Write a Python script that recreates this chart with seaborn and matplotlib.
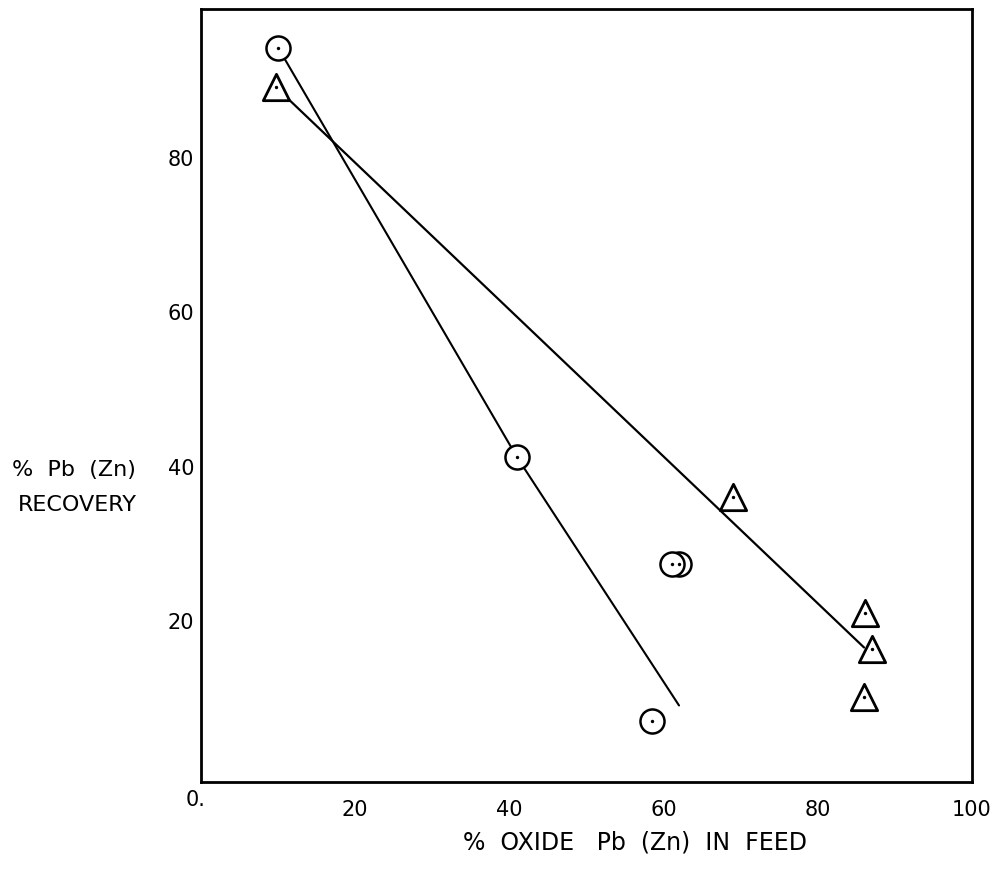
import seaborn as sns
import matplotlib.pyplot as plt
import matplotlib.transforms as mtransforms
import pandas as pd

# Data #

# circles: Pb recovery
circle_x = [10.0, 41.0, 62.0, 61.1, 58.5]
circle_y = [95.0, 42.0, 28.2, 28.2, 7.9]
# triangles: Zn recovery
triangle_x = [9.7, 69.0, 86.1, 87.0, 86.0]
triangle_y = [89.9, 36.9, 21.9, 17.2, 11.0]

# hand drawn trend lines
circle_fit_x = [10.0, 41.0, 62.0]
circle_fit_y = [95.0, 42.0, 9.9]
triangle_fit_x = [9.7, 86.0]
triangle_fit_y = [89.9, 17.4]

x_ticks = [20, 40, 60, 80, 100]
x_tick_labels = ["20", "40", "60", "80", "100"]
y_ticks = [20, 40, 60, 80]
y_tick_labels = ["20", "40", "60", "80"]

x_label = "%  OXIDE   Pb  (Zn)  IN  FEED"
y_label_lines = ["%  Pb  (Zn)", "RECOVERY"]


sns.set_theme(style="white")
plt.rcParams['font.family'] = ['DejaVu Sans']
plt.rcParams['text.color'] = "black"

fig = plt.figure(figsize=(9.95, 8.7), dpi=100)
ax = fig.add_axes([201 / 995, 1 - 783 / 870, 771 / 995, 773 / 870])

circles = pd.DataFrame({"x": circle_x, "y": circle_y})
triangles = pd.DataFrame({"x": triangle_x, "y": triangle_y})
circle_fit = pd.DataFrame({"x": circle_fit_x, "y": circle_fit_y})
triangle_fit = pd.DataFrame({"x": triangle_fit_x, "y": triangle_fit_y})

sns.lineplot(data=circle_fit, x="x", y="y", sort=False, estimator=None,
             color="black", linewidth=1.5, ax=ax, zorder=2)
sns.lineplot(data=triangle_fit, x="x", y="y", sort=False, estimator=None,
             color="black", linewidth=1.6, ax=ax, zorder=2)

sns.scatterplot(data=circles, x="x", y="y", marker="o", s=300,
                facecolor="white", edgecolor="black", linewidth=1.8, ax=ax, zorder=3)
sns.scatterplot(data=triangles, x="x", y="y", marker="^", s=360,
                facecolor="white", edgecolor="black", linewidth=2.0, ax=ax, zorder=3)
# centre dots
sns.scatterplot(data=pd.concat([circles, triangles]), x="x", y="y", marker="o",
                s=6, color="black", linewidth=0, ax=ax, zorder=4)

ax.set_xlim(0, 100)
ax.set_ylim(0, 100)
ax.set_xlabel("")
ax.set_ylabel("")

ax.set_xticks(x_ticks)
ax.set_xticklabels(x_tick_labels, fontsize=15)
ax.set_yticks(y_ticks)
ax.set_yticklabels(y_tick_labels, fontsize=15)
ax.tick_params(axis="x", direction="in", length=6, width=1.2, pad=12, colors="black")
ax.tick_params(axis="y", direction="in", length=6, width=1.2, pad=5, colors="black")

# the hand written y labels sit a little above their ticks
shift = mtransforms.ScaledTranslation(0, 7 / 100, fig.dpi_scale_trans)
for lbl in ax.get_yticklabels():
	lbl.set_transform(lbl.get_transform() + shift)

for side in ["left", "right", "top", "bottom"]:
	ax.spines[side].set_visible(True)
	ax.spines[side].set_color("black")
	ax.spines[side].set_linewidth(2.0)

ax.annotate("0.", xy=(0, 0), xycoords="data", xytext=(3, -12), textcoords="offset points",
            ha="right", va="center", fontsize=15, color="black")

fig.text(635 / 995, 1 - 843 / 870, x_label, ha="center", va="center", fontsize=17, color="black")
fig.text(12 / 995, 1 - 470 / 870, y_label_lines[0], ha="left", va="center", fontsize=16, color="black")
fig.text(18 / 995, 1 - 505 / 870, y_label_lines[1], ha="left", va="center", fontsize=16, color="black")

plt.savefig("out.png", dpi=100)
